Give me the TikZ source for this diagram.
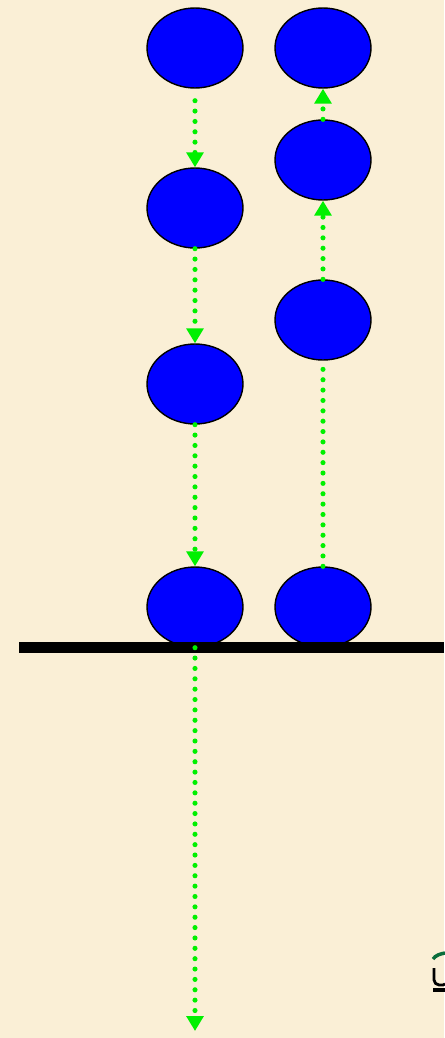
\documentclass[tikz,border=0pt]{standalone}
\usepackage{xcolor}
\usepackage{tikz}
\usetikzlibrary{shapes.geometric, arrows.meta, positioning}
\definecolor{parchment}{RGB}{250,239,214}
\definecolor{dotgreen}{RGB}{0,240,0}
\definecolor{logogreen}{RGB}{10,110,60}
\tikzset{
  ball/.style={ellipse, draw=black, line width=0.8pt, fill=blue, minimum width=1.92cm, minimum height=1.6cm, inner sep=0pt},
  trail/.style={dotgreen, line width=2.9pt, line cap=round, dash pattern=on 0pt off 5.9pt},
  trailarrow/.style={trail, -{Triangle[width=9.5pt,length=8.5pt,line cap=butt,fill=dotgreen,sep=0pt]}}
}
\begin{document}
\begin{tikzpicture}[x=0.02cm, y=-0.02cm]
\useasboundingbox (0,0) rectangle (444,1038);
\fill[parchment] (0,0) rectangle (444,1038);
\node[ball] (a1) at (195,48) {};
\node[ball] (a2) at (195,208) {};
\node[ball] (a3) at (195,384) {};
\node[ball] (a4) at (195,607) {};
\node[ball] (b1) at (323,48) {};
\node[ball] (b2) at (323,160) {};
\node[ball] (b3) at (323,320) {};
\node[ball] (b4) at (323,607) {};
\draw[black, line width=6.2pt] (19,647.5) -- (444,647.5);
\coordinate (fall) at (195,1031);
\draw[trailarrow, shorten <=0.24cm] (a1.south) -- (a2.north);
\draw[trailarrow] (a2.south) -- (a3.north);
\draw[trailarrow] (a3.south) -- (a4.north);
\draw[trailarrow] (a4.south) -- (fall);
\draw[trail] (b4.north) -- (b3.south);
\draw[trailarrow] (b3.north) -- (b2.south);
\draw[trailarrow] (b2.north) -- (b1.south);
\draw[logogreen, line width=2pt] (433,959) .. controls (436,955) and (440,954) .. (445,953);
\draw[black, line width=1.6pt] (434,968) -- (434,980) .. controls (434,986) and (444,986) .. (445,984);
\draw[black, line width=1.8pt] (433,990) -- (445,990);
\end{tikzpicture}
\end{document}
